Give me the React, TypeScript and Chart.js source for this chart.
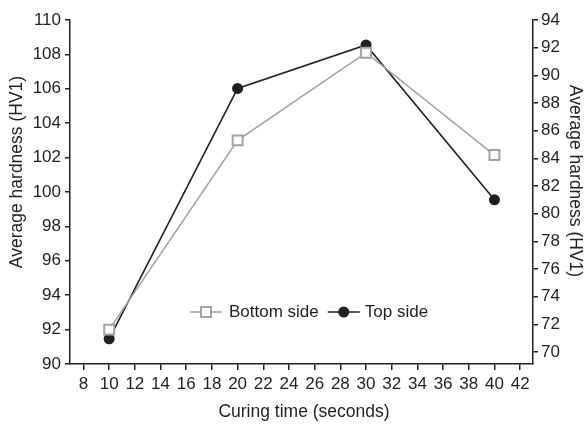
import React, { useEffect, useRef } from 'react';
import { Chart, registerables } from 'chart.js';

Chart.register(...registerables);

// ---- data ----
const curingTimes = [10, 20, 30, 40];
const bottomSide = [92.0, 103.0, 108.1, 102.15];
const topSide = [70.95, 89.05, 92.2, 81.0];

const xTicks = [8, 10, 12, 14, 16, 18, 20, 22, 24, 26, 28, 30, 32, 34, 36, 38, 40, 42];
const leftTicks = [90, 92, 94, 96, 98, 100, 102, 104, 106, 108, 110];
const rightTicks = [70, 72, 74, 76, 78, 80, 82, 84, 86, 88, 90, 92, 94];

const seriesNames = ['Bottom side', 'Top side'];
const xTitle = 'Curing time (seconds)';
const yTitle = 'Average hardness (HV1)';

const FONT = '"Liberation Sans", Arial, sans-serif';
const INK = '#231f20';
const GRAY = '#a3a3a3';

const decorPlugin = {
  id: 'decor',
  afterDraw(chart: any) {
    const ctx = chart.ctx as CanvasRenderingContext2D;
    const area = chart.chartArea;
    ctx.save();
    ctx.fillStyle = INK;
    ctx.textBaseline = 'middle';
    ctx.textAlign = 'center';
    ctx.font = `17.5px ${FONT}`;
    // axis titles
    ctx.fillText(xTitle, (area.left + area.right) / 2 + 2.5, 412);
    ctx.save();
    ctx.translate(17, (area.top + area.bottom) / 2 - 20);
    ctx.rotate(-Math.PI / 2);
    ctx.fillText(yTitle, 0, 0);
    ctx.restore();
    ctx.save();
    ctx.translate(575, (area.top + area.bottom) / 2 - 11);
    ctx.rotate(Math.PI / 2);
    ctx.fillText(yTitle, 0, 0);
    ctx.restore();

    // legend inside plot
    const y = 312;
    let x = 190;
    ctx.font = `17px ${FONT}`;
    ctx.textAlign = 'left';
    ctx.strokeStyle = GRAY;
    ctx.lineWidth = 1.6;
    ctx.beginPath();
    ctx.moveTo(x, y);
    ctx.lineTo(x + 32, y);
    ctx.stroke();
    ctx.fillStyle = '#fff';
    ctx.lineWidth = 2;
    ctx.beginPath();
    ctx.rect(x + 16 - 5, y - 5, 10, 10);
    ctx.fill();
    ctx.stroke();
    x += 39;
    ctx.fillStyle = INK;
    ctx.fillText(seriesNames[0], x, y);
    x += ctx.measureText(seriesNames[0]).width + 9;
    ctx.strokeStyle = INK;
    ctx.lineWidth = 1.6;
    ctx.beginPath();
    ctx.moveTo(x, y);
    ctx.lineTo(x + 32, y);
    ctx.stroke();
    ctx.beginPath();
    ctx.arc(x + 16, y, 5.5, 0, Math.PI * 2);
    ctx.fill();
    x += 37;
    ctx.fillText(seriesNames[1], x, y);
    ctx.restore();
  },
};

export default function App() {
  const ref = useRef<HTMLCanvasElement | null>(null);

  useEffect(() => {
    if (!ref.current) return;
    const chart = new Chart(ref.current, {
      type: 'line',
      data: {
        datasets: [
          {
            label: seriesNames[0],
            data: curingTimes.map((t, i) => ({ x: t, y: bottomSide[i] })),
            yAxisID: 'y',
            borderColor: GRAY,
            borderWidth: 1.6,
            pointStyle: 'rect',
            pointRadius: 7,
            pointBorderWidth: 2,
            pointBackgroundColor: '#fff',
            pointBorderColor: GRAY,
            tension: 0,
          },
          {
            label: seriesNames[1],
            data: curingTimes.map((t, i) => ({ x: t, y: topSide[i] })),
            yAxisID: 'y1',
            borderColor: INK,
            borderWidth: 1.6,
            pointStyle: 'circle',
            pointRadius: 5.5,
            pointBorderWidth: 0,
            pointBackgroundColor: INK,
            pointBorderColor: INK,
            tension: 0,
          },
        ],
      },
      options: {
        animation: false,
        responsive: true,
        maintainAspectRatio: false,
        layout: { padding: { top: 20, left: 0, right: 0, bottom: 0 } },
        plugins: {
          legend: { display: false },
          tooltip: { enabled: false },
        },
        scales: {
          x: {
            type: 'linear',
            min: 6.95,
            max: 43,
            afterBuildTicks: (s: any) => { s.ticks = xTicks.map((v) => ({ value: v })); },
            afterFit: (s: any) => { s.height = 63; },
            grid: { display: true, drawOnChartArea: false, drawTicks: true, tickLength: 6, color: INK, lineWidth: 1.5 },
            border: { display: true, color: INK, width: 1.5 },
            ticks: { autoSkip: false, maxRotation: 0, color: INK, padding: 4, font: { family: FONT, size: 17 } },
            title: { display: false, text: xTitle },
          },
          y: {
            type: 'linear',
            position: 'left',
            min: 90,
            max: 110,
            afterBuildTicks: (s: any) => { s.ticks = leftTicks.map((v) => ({ value: v })); },
            afterFit: (s: any) => { s.width = 70; },
            grid: { display: true, drawOnChartArea: false, drawTicks: true, tickLength: 5, color: INK, lineWidth: 1.5 },
            border: { display: true, color: INK, width: 1.5 },
            ticks: { color: INK, padding: 4, font: { family: FONT, size: 17 } },
            title: { display: false, text: yTitle },
          },
          y1: {
            type: 'linear',
            position: 'right',
            min: 69.13,
            max: 94,
            afterBuildTicks: (s: any) => { s.ticks = rightTicks.map((v) => ({ value: v })); },
            afterFit: (s: any) => { s.width = 53; },
            grid: { display: true, drawOnChartArea: false, drawTicks: true, tickLength: 5, color: INK, lineWidth: 1.5 },
            border: { display: true, color: INK, width: 1.5 },
            ticks: { color: INK, padding: 3, font: { family: FONT, size: 17 } },
            title: { display: false, text: yTitle },
          },
        },
      },
      plugins: [decorPlugin],
    } as any);
    return () => chart.destroy();
  }, []);

  return (
    <div style={{ position: 'fixed', left: 0, top: 0, width: 586, height: 427, background: '#fff' }}>
      <canvas ref={ref} />
    </div>
  );
}
